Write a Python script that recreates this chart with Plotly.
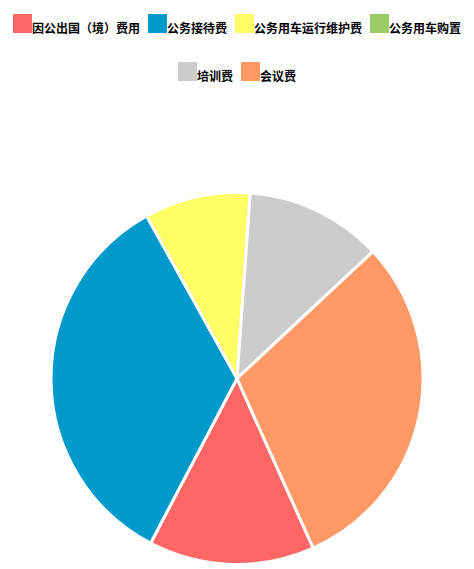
import plotly.graph_objects as go

# 各费用类别与占比
categories = ["因公出国（境）费用", "公务接待费", "公务用车运行维护费", "公务用车购置", "培训费", "会议费"]
values = [14.4, 34.2, 9.2, 0, 11.9, 30.2]
colors = ["#ff6666", "#0099cc", "#ffff66", "#99cc66", "#cccccc", "#ff9966"]

W, H = 474, 569
L, R, T, B = 43, 59, 184, 12   # 页面 body 有 8px 边距，这里抵消
pw, ph = W - L - R, H - T - B


def fx(x):  # 像素 -> paper x
    return (x - L) / pw


def fy(y):  # 像素 -> paper y
    return (H - B - y) / ph


fig = go.Figure(
    go.Pie(
        labels=categories,
        values=values,
        sort=False,
        direction="clockwise",
        rotation=155.8,
        textinfo="none",
        hoverinfo="label+value+percent",
        showlegend=False,
        marker=dict(colors=colors, line=dict(color="white", width=3)),
    )
)

# 图例：两行居中，色块 19px，文字 12px
box = 19
char_w = 12
gap = 8
rows = [(0, 4, 6), (4, 6, 54)]  # 起始索引、结束索引、色块顶部像素
shapes, annotations = [], []
for i0, i1, top in rows:
    total = sum(box + char_w * len(categories[i]) for i in range(i0, i1)) + gap * (i1 - i0 - 1)
    x = 229 - total / 2
    for i in range(i0, i1):
        shapes.append(dict(
            type="rect", xref="paper", yref="paper",
            x0=fx(x), x1=fx(x + box), y0=fy(top + box), y1=fy(top),
            fillcolor=colors[i], line=dict(width=0),
        ))
        annotations.append(dict(
            text=categories[i], xref="paper", yref="paper",
            x=fx(x + box - 1), y=fy(top + 13.5), xanchor="left", yanchor="middle",
            showarrow=False, borderpad=0,
            font=dict(size=12, weight="bold", color="black"),
        ))
        x += box + char_w * len(categories[i]) + gap

fig.update_layout(
    width=W,
    height=H,
    margin=dict(l=L, r=R, t=T, b=B),
    paper_bgcolor="white",
    plot_bgcolor="white",
    font=dict(family="Noto Sans CJK SC", color="black"),
    shapes=shapes,
    annotations=annotations,
)

fig.write_html("out.html")
